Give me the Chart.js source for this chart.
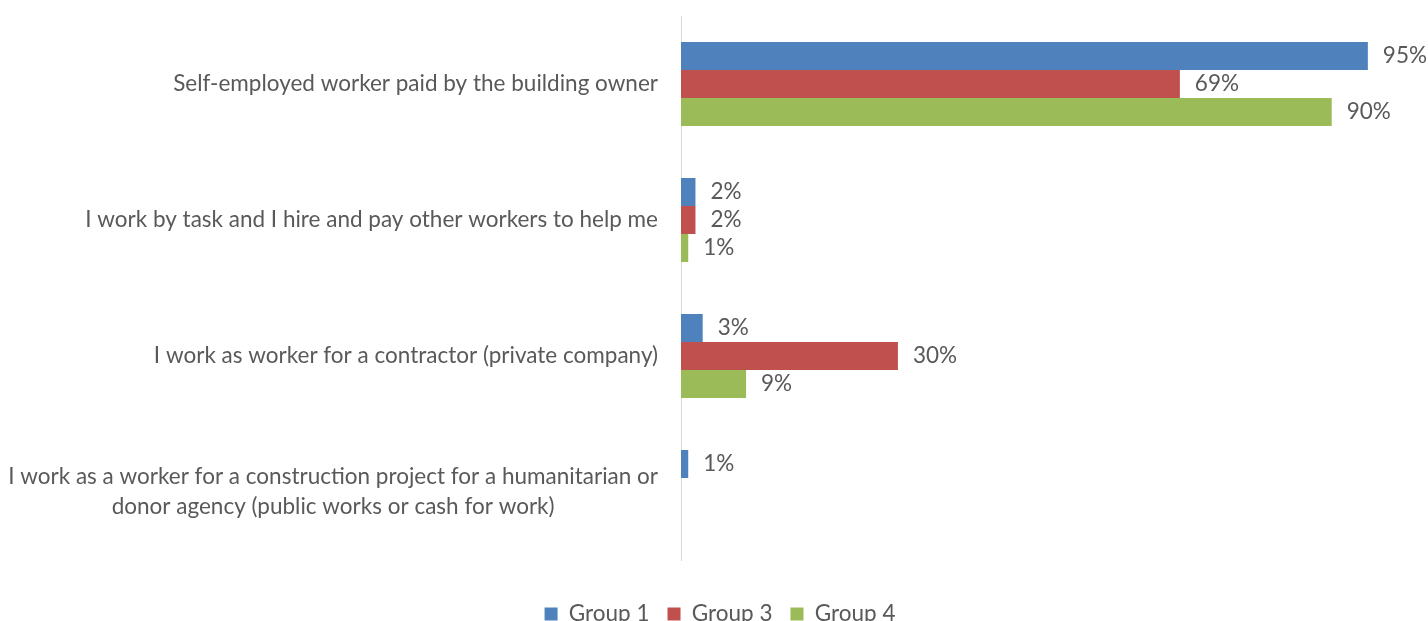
<!DOCTYPE html>
<html><head><meta charset="utf-8">
<script src="https://cdn.jsdelivr.net/npm/chart.js@4"></script>
<style>html,body{margin:0;padding:0;background:#fff}#wrap{width:1428px;height:621px;position:relative}</style>
</head><body><div id="wrap"><canvas id="c"></canvas></div>
<script>
const categories = [
  ["Self-employed worker paid by the building owner"],
  ["I work by task and I hire and pay other workers to help me"],
  ["I work as worker for a contractor (private company)"],
  ["I work as a worker for a construction project for a humanitarian or", "donor agency (public works or cash for work)"]
];
const seriesNames = ["Group 1", "Group 3", "Group 4"];
const group1 = [95, 2, 3, 1];
const group3 = [69, 2, 30, 0];
const group4 = [90, 1, 9, 0];
const colors = ["#4F81BD", "#C0504D", "#9BBB59"];
const FONT = "Lato";
const FS = 22.5;
const TXT = "#595959";
const LEG_PAD = 18;

const labelPlugin = {
  id: 'labels',
  afterDatasetsDraw(chart) {
    const ctx = chart.ctx;
    ctx.save();
    ctx.font = FS + "px " + FONT;
    ctx.fillStyle = TXT;
    ctx.textBaseline = "middle";
    ctx.textAlign = "left";
    chart.data.datasets.forEach((ds, i) => {
      chart.getDatasetMeta(i).data.forEach((el, j) => {
        const v = ds.data[j];
        if (v > 0) ctx.fillText(v + "%", el.x + 15, el.y);
      });
    });
    const ys = chart.scales.y;
    const right = chart.chartArea.left - 23;
    categories.forEach((lines, j) => {
      const yc = ys.getPixelForTick(j);
      const lh = 30;
      const widths = lines.map(l => ctx.measureText(l).width);
      const maxW = Math.max(...widths);
      const cx = right - maxW / 2;
      ctx.textAlign = "center";
      lines.forEach((l, k) => {
        ctx.fillText(l, cx, yc + (k - (lines.length - 1) / 2) * lh);
      });
    });
    ctx.restore();
  }
};

const legendPlace = {
  id: 'legendPlace',
  beforeInit(chart) {
    const lg = chart.legend;
    const orig = lg.fit;
    lg.fit = function () { orig.call(this); this.height = 61; };
  },
  afterLayout(chart) {
    const lg = chart.legend;
    const d = 614 - (lg.top + LEG_PAD + FS / 2);
    lg.top += d; lg.bottom += d;
    lg.left += 18; lg.right += 18;
  }
};

new Chart(document.getElementById('c'), {
  type: 'bar',
  data: {
    labels: categories.map(c => c.join(" ")),
    datasets: [
      { label: seriesNames[0], data: group1, backgroundColor: colors[0] },
      { label: seriesNames[1], data: group3, backgroundColor: colors[1] },
      { label: seriesNames[2], data: group4, backgroundColor: colors[2] }
    ]
  },
  options: {
    indexAxis: 'y',
    responsive: true,
    maintainAspectRatio: false,
    animation: false,
    categoryPercentage: 0.6176,
    barPercentage: 1,
    layout: { padding: { top: 16, right: 24, bottom: 0, left: 0 } },
    scales: {
      x: { display: false, min: 0, max: 100 },
      y: {
        grid: { display: false, drawTicks: false },
        border: { display: true, color: "#D9D9D9", width: 1 },
        ticks: { display: false },
        afterFit(scale) { scale.width = 681; }
      }
    },
    plugins: {
      legend: {
        position: 'bottom',
        labels: { font: { family: FONT, size: FS, lineHeight: 1 }, color: TXT, boxWidth: 13, boxHeight: 13, padding: LEG_PAD }
      },
      tooltip: { enabled: false }
    }
  },
  plugins: [labelPlugin, legendPlace]
});
</script></body></html>
